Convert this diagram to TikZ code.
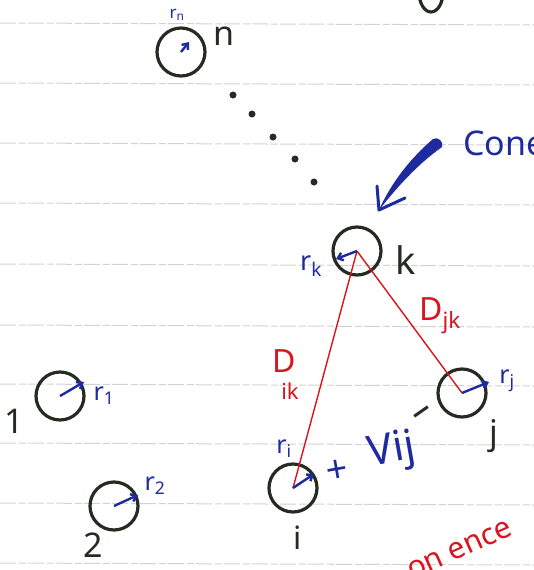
\documentclass[tikz,border=0pt]{standalone}
\usepackage{fontspec}
\setmainfont{Noto Sans}
\usetikzlibrary{arrows.meta}
\definecolor{ink}{HTML}{262B22}
\definecolor{pen}{HTML}{1E2A9E}
\definecolor{redpen}{HTML}{D8141E}
\definecolor{ruleline}{HTML}{D2D2D2}
\tikzset{
  particle/.style={circle, draw=ink, line width=3.2pt, minimum size=48pt, inner sep=0pt},
  dotmark/.style={circle, fill=ink, minimum size=7pt, inner sep=0pt},
  radarrow/.style={pen, line width=2.4pt, -{Straight Barb[length=5pt,width=8pt]}},
  redline/.style={redpen, line width=1.4pt},
  lbl/.style={inner sep=0pt, text=ink, font=\fontsize{34}{36}\selectfont},
  rlbl/.style={inner sep=0pt, text=pen, font=\fontsize{25}{27}\selectfont},
  dlbl/.style={inner sep=0pt, text=redpen, font=\fontsize{32}{34}\selectfont},
}
\begin{document}
\begin{tikzpicture}[x=1pt,y=-1pt]
\useasboundingbox (0,0) rectangle (534,570);
\clip (0,0) rectangle (534,570);
% ruled lines
\foreach \yy in {23,83,143,203,264,325,384,443,503,563}
  \draw[ruleline, line width=1pt, dash pattern=on 16pt off 3pt on 7pt off 2pt] (0,\yy) -- (534,\yy+2);
% particles
\node[particle] (cn) at (181,52) {};
\node[particle] (ck) at (357,251) {};
\node[particle] (cj) at (462,393) {};
\node[particle] (ci) at (293,488) {};
\node[particle] (c1) at (60,396) {};
\node[particle] (c2) at (114,506) {};
\draw[ink, line width=3.2pt] (431,-8) ellipse (12 and 20);
% distances
\draw[redline] (ck.center) -- (ci.center);
\draw[redline] (ck.center) -- (cj.center);
% radius arrows
\coordinate (an) at (189,42);
\coordinate (ak) at (336,259);
\coordinate (aj) at (489,382);
\coordinate (ai) at (314,474);
\coordinate (a1) at (84,382);
\coordinate (a2) at (138,495);
\draw[radarrow] (cn.center) -- (an);
\draw[radarrow] (ck.center) -- (ak);
\draw[radarrow] (cj.center) -- (aj);
\draw[radarrow] (ci.center) -- (ai);
\draw[radarrow] (c1.center) -- (a1);
\draw[radarrow] (c2.center) -- (a2);
% dots
\node[dotmark] (d1) at (233,95) {};
\node[dotmark] (d2) at (252,114) {};
\node[dotmark] (d3) at (273,137) {};
\node[dotmark] (d4) at (295,159) {};
\node[dotmark] (d5) at (314,182) {};
% big blue arrow
\coordinate (tip) at (379,210);
\fill[pen] (433,139) .. controls (412,157) and (392,181) .. (tip)
  .. controls (398,186) and (418,164) .. (442,147)
  .. controls (444,142) and (438,136) .. cycle;
\draw[pen, line width=3pt, line cap=round, line join=round] (377,186) -- (tip) -- (405,198);
\node[anchor=base west, inner sep=0pt, text=pen, font=\fontsize{34}{36}\selectfont] (cone) at (463,155) {Cone};
% labels
\node[rlbl, font=\fontsize{17}{18}\selectfont] (lrn) at (177,15) {r\textsubscript{n}};
\node[lbl] (ln) at (224,36) {n};
\node[rlbl, font=\fontsize{27}{29}\selectfont] (lrk) at (311,266) {r\textsubscript{k}};
\node[lbl, font=\fontsize{38}{40}\selectfont] (lk) at (406,260) {k};
\node[dlbl] (ldjk) at (440,316) {D\textsubscript{jk}};
\node[dlbl] (ldik) at (284,361) {D};
\node[dlbl, font=\fontsize{22}{24}\selectfont] (ldik2) at (290,391) {ik};
\node[rlbl] (lrj) at (507,381) {r\textsubscript{j}};
\node[lbl] (lj) at (494,436) {j};
\node[rlbl] (lri) at (284,449) {r\textsubscript{i}};
\node[lbl, font=\fontsize{32}{34}\selectfont] (li) at (298,538) {i};
\node[inner sep=0pt, text=pen, rotate=10, font=\bfseries\fontsize{38}{40}\selectfont] (lplus) at (337,471) {+};
\node[inner sep=0pt, text=pen, rotate=10, font=\fontsize{42}{44}\selectfont] (lvij) at (392,452) {Vij};
\node[inner sep=0pt, text=ink, rotate=35, font=\fontsize{40}{42}\selectfont] (lminus) at (424,416) {–};
\node[rlbl] (lr1) at (104,396) {r\textsubscript{1}};
\node[lbl] (l1) at (14,421) {1};
\node[rlbl] (lr2) at (155,486) {r\textsubscript{2}};
\node[lbl] (l2) at (93,545) {2};
\node[inner sep=0pt, text=redpen, rotate=24, anchor=base west, font=\fontsize{30}{32}\selectfont] (lred) at (412,580) {on ence};
\end{tikzpicture}
\end{document}
